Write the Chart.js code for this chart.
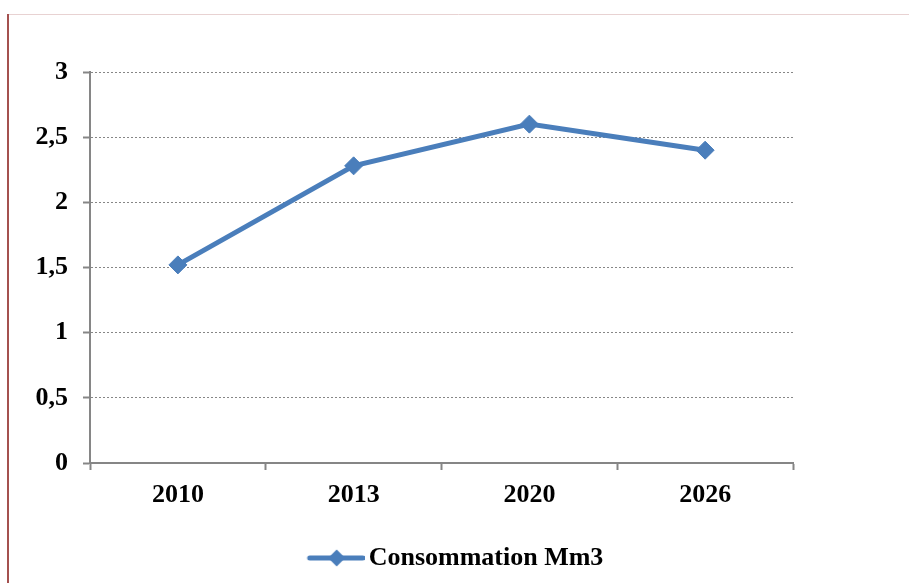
<!DOCTYPE html>
<html>
<head>
<meta charset="utf-8">
<title>Consommation Mm3</title>
<script src="https://cdn.jsdelivr.net/npm/chart.js@4"></script>
<style>
  html, body { margin: 0; padding: 0; background: #fff; }
  #wrap { width: 909px; height: 583px; }
</style>
</head>
<body>
<div id="wrap">
  <canvas id="conso-chart" width="909" height="583"></canvas>
</div>
<script>
const years = ["2010", "2013", "2020", "2026"];
const consommation = [1.52, 2.28, 2.6, 2.4];
const yTickLabels = ["0", "0,5", "1", "1,5", "2", "2,5", "3"];

const lineBlue = "#4a7ebb";
const axisGray = "#868686";
const labelFont = { family: "'Liberation Serif', 'Times New Roman', serif", size: 26, weight: "bold" };

// legend marker: short line with a diamond, a bit wider than the legend box
function legendMarker() {
  const c = document.createElement("canvas");
  c.width = 68;
  c.height = 20;
  const g = c.getContext("2d");
  g.strokeStyle = lineBlue;
  g.lineWidth = 5;
  g.lineCap = "round";
  g.beginPath();
  g.moveTo(13, 10);
  g.lineTo(66, 10);
  g.stroke();
  g.fillStyle = lineBlue;
  g.beginPath();
  g.moveTo(40, 1.5);
  g.lineTo(48.5, 10);
  g.lineTo(40, 18.5);
  g.lineTo(31.5, 10);
  g.closePath();
  g.fill();
  return c;
}

// thin frame along the top and left edges
const framePlugin = {
  id: "frame",
  beforeDraw(chart) {
    const ctx = chart.ctx;
    ctx.save();
    ctx.strokeStyle = "#e8d2d2";
    ctx.lineWidth = 1;
    ctx.beginPath();
    ctx.moveTo(8, 14.5);
    ctx.lineTo(chart.width, 14.5);
    ctx.stroke();
    ctx.strokeStyle = "#a4514f";
    ctx.lineWidth = 2;
    ctx.beginPath();
    ctx.moveTo(8, 14);
    ctx.lineTo(8, chart.height);
    ctx.stroke();
    ctx.restore();
  },
};

const ctx = document.getElementById("conso-chart").getContext("2d");
new Chart(ctx, {
  type: "line",
  data: {
    labels: years,
    datasets: [
      {
        label: "Consommation Mm3",
        data: consommation,
        borderColor: lineBlue,
        backgroundColor: lineBlue,
        borderWidth: 5,
        pointStyle: "rectRot",
        pointRadius: 9,
        pointBorderWidth: 1,
        pointBackgroundColor: lineBlue,
        pointBorderColor: lineBlue,
        tension: 0,
        fill: false,
      },
    ],
  },
  options: {
    responsive: false,
    animation: false,
    devicePixelRatio: 1,
    layout: { padding: { left: 0, top: 72, right: 0, bottom: 2 } },
    plugins: {
      tooltip: { enabled: false },
      legend: {
        display: true,
        position: "bottom",
        labels: {
          usePointStyle: true,
          pointStyle: legendMarker(),
          pointStyleWidth: 50,
          color: "#000",
          font: labelFont,
          padding: 10,
        },
      },
    },
    scales: {
      x: {
        offset: true,
        afterFit(scale) { scale.height = 72; },
        grid: {
          offset: true,
          drawOnChartArea: false,
          drawTicks: true,
          tickLength: 7,
          tickColor: axisGray,
          tickWidth: 2,
        },
        border: { display: true, color: axisGray, width: 2 },
        ticks: { color: "#000", font: labelFont, padding: 10, maxRotation: 0 },
      },
      y: {
        min: 0,
        max: 3,
        afterFit(scale) { scale.width = 90; },
        grid: {
          color: axisGray,
          lineWidth: 1,
          drawTicks: true,
          tickLength: 7,
          tickColor: axisGray,
          tickWidth: 2,
          tickBorderDash: [],
        },
        border: { display: true, color: axisGray, width: 2, dash: [2, 2] },
        ticks: {
          stepSize: 0.5,
          color: "#000",
          font: labelFont,
          padding: 15,
          callback: (value, i) => yTickLabels[i],
        },
      },
      // empty right-hand margin so the plot ends before the legend's full width
      yRight: {
        position: "right",
        display: true,
        afterFit(scale) { scale.width = 116; },
        grid: { display: false, drawTicks: false },
        border: { display: false },
        ticks: { display: false },
      },
    },
  },
  plugins: [framePlugin],
});
</script>
</body>
</html>
